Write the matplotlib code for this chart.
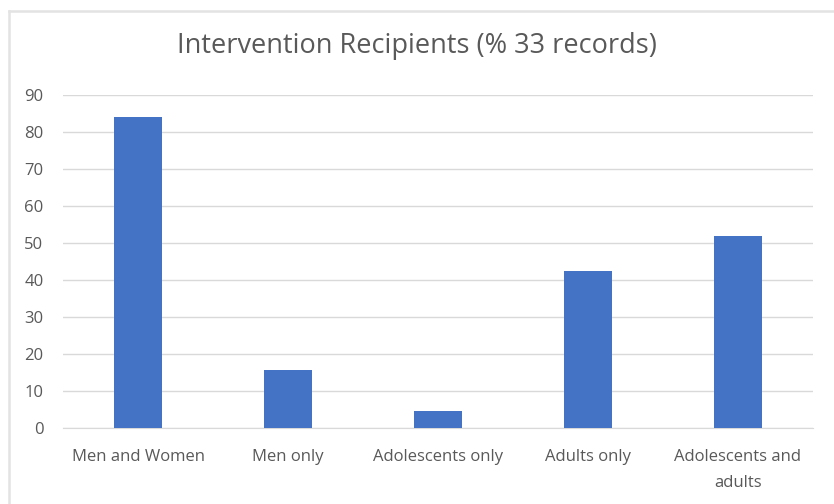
import matplotlib.pyplot as plt
from matplotlib.lines import Line2D

categorias = ['Men and Women', 'Men only', 'Adolescents only', 'Adults only', 'Adolescents and\nadults']
percentuais = [84, 15.6, 4.5, 42.5, 52]
yticks = list(range(0, 91, 10))

cinza = '#595959'
azul = '#4472C4'

plt.rcParams['font.family'] = ['Open Sans', 'DejaVu Sans']

fig = plt.figure(figsize=(8.34, 5.04), dpi=100)
ax = fig.add_axes([63 / 834, 1 - 428 / 504, 750 / 834, 333 / 504])

x = range(len(categorias))
ax.bar(x, percentuais, width=0.32, color=azul, zorder=3)

ax.set_xlim(-0.5, len(categorias) - 0.5)
ax.set_ylim(0, 90)
ax.set_yticks(yticks)
ax.set_xticks(list(x))
ax.set_xticklabels(categorias, fontsize=12, color=cinza, linespacing=1.85)
ax.tick_params(axis='y', labelsize=12, colors=cinza, length=0, pad=14)
ax.tick_params(axis='x', length=0, pad=15)
ax.grid(axis='y', color='#d9d9d9', linewidth=1, zorder=0)
for lado in ['top', 'right', 'left']:
    ax.spines[lado].set_visible(False)
ax.spines['bottom'].set_color('#d9d9d9')

fig.text(0.5, 1 - 46 / 504, 'Intervention Recipients (% 33 records)',
         ha='center', va='center', fontsize=19.5, color=cinza)

# moldura clara no topo e na esquerda
fig.add_artist(Line2D([9 / 834, 1], [1 - 11 / 504, 1 - 11 / 504], color='#e3e3e3', linewidth=1.8))
fig.add_artist(Line2D([9 / 834, 9 / 834], [0, 1 - 11 / 504], color='#e3e3e3', linewidth=1.8))

fig.savefig('out.png', dpi=100)
